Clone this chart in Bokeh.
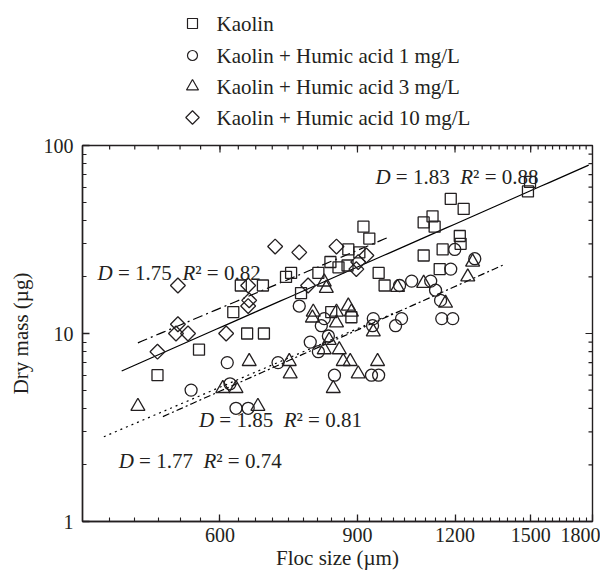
import math
from bokeh.plotting import figure
from bokeh.layouts import column
from bokeh.models import FixedTicker, Label, Range1d
from bokeh.core.properties import value
from bokeh.embed import file_html
from bokeh.resources import INLINE

series_names = ["Kaolin", "Kaolin + Humic acid 1 mg/L",
                "Kaolin + Humic acid 3 mg/L", "Kaolin + Humic acid 10 mg/L"]

kaolin_size = [1497, 1488, 1185, 1231, 1123, 1094, 1130, 916, 932, 1217, 1220, 1157,
               1094, 876, 905, 831, 874, 851, 802, 958, 975, 1147, 762, 884, 740, 729,
               638, 681, 624, 650, 683, 564, 499, 833]
kaolin_mass = [64, 57, 52, 46, 42, 39, 37, 37, 32, 33, 30, 28,
               26, 28, 27, 24, 23, 22.5, 21, 21, 18, 22, 16.4, 12.2, 21, 20,
               18, 18, 13, 10, 10, 8.2, 6, 13]

ha1_size = [1199, 1272, 1185, 1056, 1019, 1117, 1133, 1150, 1154, 1192, 943, 941,
            1025, 1007, 816, 783, 802, 841, 938, 958, 758, 613, 712, 551, 618, 629,
            652, 809, 826]
ha1_mass = [28, 25, 22, 19, 18, 19, 17, 15, 12, 12, 12, 11,
            12, 11, 12, 9, 8, 6, 6, 6, 14, 7, 7, 5, 5.4, 4,
            4, 11, 9.7]

ha3_size = [1264, 1246, 1013, 1094, 1167, 943, 790, 846, 876, 884, 846, 828, 816,
            853, 863, 881, 902, 955, 838, 816, 821, 471, 654, 736, 738, 605, 629,
            671, 788]
ha3_mass = [24, 20, 17.6, 18.5, 14.5, 10.2, 13, 13, 14, 13, 11.4, 9.2, 8.2,
            8.2, 7.1, 7.1, 6.1, 7.1, 5.1, 18.8, 17.4, 4.1, 7.1, 7.1, 6.1, 5.1, 5.1,
            4.1, 12.1]

ha10_size = [706, 758, 846, 530, 652, 778, 654, 652, 530, 527, 546, 611, 499, 924, 902, 897]
ha10_mass = [29, 27, 29, 18, 18, 18, 15, 14, 11.2, 10, 10, 10, 8, 26, 24, 22]

# fitted power laws  m = m0 * (d / d0) ** D
fit_D = [1.83, 1.77, 1.85, 1.75]
fit_R2 = [0.88, 0.74, 0.81, 0.82]
fit_d0 = [448.9, 425.6, 506.8, 470.7]
fit_m0 = [6.32, 2.82, 3.61, 8.91]
fit_d_start = [449, 426, 507, 471]
fit_d_end = [1780, 1000, 1390, 986]

x_ticks = [600, 900, 1200, 1500, 1800]
x_tick_labels = ["600", "900", "1200", "1500", "1800"]
y_ticks = [1, 10, 100]
y_tick_labels = ["1", "10", "100"]

FONT = "Liberation Serif"
INK = "#231f20"
XMIN, XMAX, YMIN, YMAX = 400, 1800, 1, 100
W, H = 600, 572
LEFT, RIGHT = 82, 8
LH = 131                    # legend strip height
TOP, BOTTOM = 14, 51
FW = W - LEFT - RIGHT
FH = H - LH - TOP - BOTTOM

markers = [dict(marker="square", size=11, angle=0),
           dict(marker="circle", size=12, angle=0),
           dict(marker="triangle", size=14, angle=0),
           dict(marker="square", size=10.5, angle=math.pi / 4)]
legend_markers = [dict(marker="square", size=10, angle=0),
                  dict(marker="circle", size=10, angle=0),
                  dict(marker="triangle", size=12, angle=0),
                  dict(marker="square", size=9.5, angle=math.pi / 4)]

# ---------------- legend strip (its frame is aligned with the plot frame) ----------------
leg = figure(width=W, height=LH, x_range=Range1d(LEFT, W - RIGHT), y_range=Range1d(0, LH),
             output_backend="svg", toolbar_location=None,
             x_axis_location=None, y_axis_location=None,
             min_border_left=LEFT, min_border_right=RIGHT,
             min_border_top=0, min_border_bottom=0)
leg.grid.visible = False
leg.outline_line_color = None
leg.background_fill_color = None
leg.border_fill_color = None
row_y = [LH - 23, LH - 55, LH - 86, LH - 117]
for k in range(4):
    m = legend_markers[k]
    leg.scatter([192], [row_y[k]], marker=m["marker"], size=m["size"], angle=m["angle"],
                fill_color=None, line_color=INK, line_width=1.2)
leg.text([216] * 4, row_y, text=series_names, text_font=value(FONT),
         text_font_size="21px", text_baseline="middle", text_align="left", text_color=INK)

# ---------------- main plot ----------------
p = figure(width=W, height=H - LH, x_axis_type="log", y_axis_type="log",
           x_range=(XMIN, XMAX), y_range=(YMIN, YMAX),
           output_backend="svg", toolbar_location=None,
           min_border_top=TOP, min_border_left=LEFT, min_border_right=RIGHT,
           min_border_bottom=BOTTOM)
p.grid.visible = False
p.background_fill_color = None
p.border_fill_color = None
p.outline_line_color = INK
p.outline_line_width = 1.4

x_minor = [XMIN + i * 100 / 3 for i in range(1, 42)]
y_minor = [k * m for m in (1, 10) for k in range(2, 10)]
p.xaxis.ticker = FixedTicker(ticks=x_ticks, minor_ticks=x_minor)
p.yaxis.ticker = FixedTicker(ticks=y_ticks, minor_ticks=y_minor)
p.xaxis.major_label_overrides = dict(zip(x_ticks, x_tick_labels))
p.yaxis.major_label_overrides = dict(zip(y_ticks, y_tick_labels))

for ax in (p.xaxis[0], p.yaxis[0]):
    ax.axis_line_color = INK
    ax.axis_line_width = 1.4
    ax.major_tick_line_color = INK
    ax.minor_tick_line_color = INK
    ax.major_tick_line_width = 1.3
    ax.minor_tick_line_width = 1.1
    ax.major_tick_in = 7
    ax.major_tick_out = 0
    ax.minor_tick_in = 4
    ax.minor_tick_out = 0
    ax.major_label_text_font = FONT
    ax.major_label_text_color = INK
    ax.major_label_text_font_size = "20px"
    ax.axis_label_text_font = FONT
    ax.axis_label_text_font_style = "normal"
    ax.axis_label_text_color = INK
    ax.axis_label_text_font_size = "21px"
p.xaxis.major_label_standoff = 6
p.yaxis.major_label_standoff = 9
p.xaxis.axis_label = "Floc size (µm)"
p.yaxis.axis_label = "Dry mass (µg)"
p.xaxis.axis_label_standoff = 1
p.yaxis.axis_label_standoff = 8

# mirrored ticks on the top and right edges of the frame
def tick_end_y(px):
    return YMAX * (YMAX / YMIN) ** (-px / FH)

def tick_end_x(px):
    return XMAX * (XMAX / XMIN) ** (-px / FW)

top_x = x_ticks + x_minor
top_len = [7] * len(x_ticks) + [4] * len(x_minor)
p.segment(x0=top_x, y0=[YMAX] * len(top_x), x1=top_x, y1=[tick_end_y(L) for L in top_len],
          line_color=INK, line_width=1.2)
right_y = y_ticks + y_minor
right_len = [7] * len(y_ticks) + [4] * len(y_minor)
p.segment(x0=[XMAX] * len(right_y), y0=right_y, x1=[tick_end_x(L) for L in right_len], y1=right_y,
          line_color=INK, line_width=1.2)

# regression lines
line_dash = ["solid", "2 4", "7 3 2 3", "10 4 2 4"]
for i in range(4):
    n = 60
    xs = [fit_d_start[i] * (fit_d_end[i] / fit_d_start[i]) ** (k / (n - 1)) for k in range(n)]
    ys = [fit_m0[i] * (x / fit_d0[i]) ** fit_D[i] for x in xs]
    p.line(xs, ys, line_color="black", line_width=1.2, line_dash=line_dash[i])

sizes = [kaolin_size, ha1_size, ha3_size, ha10_size]
masses = [kaolin_mass, ha1_mass, ha3_mass, ha10_mass]
for k in range(4):
    m = markers[k]
    p.scatter(sizes[k], masses[k], marker=m["marker"], size=m["size"], angle=m["angle"],
              fill_color=None, line_color=INK, line_width=1.3)

# equation annotations: (x, y) anchor in data coords, left edge / baseline
ann_anchor = [(949, 67.6), (445, 2.11), (563.8, 3.48), (418.2, 20.9)]
for i in range(4):
    ax_, ay_ = ann_anchor[i]
    pieces = [("D", 0, "italic"), ("=", 20.4, "normal"), (f"{fit_D[i]:.2f}", 37.5, "normal"),
              ("R", 84.8, "italic"), ("²", 97.6, "normal"), ("=", 109.2, "normal"),
              (f"{fit_R2[i]:.2f}", 126.3, "normal")]
    for txt, dx, style in pieces:
        p.add_layout(Label(x=ax_, y=ay_, text=txt, x_offset=dx, text_baseline="alphabetic",
                           text_align="left", text_font=FONT, text_font_size="21px",
                           text_font_style=style, text_color=INK))

layout = column(leg, p, spacing=0)
open("out.html", "w").write(file_html(layout, INLINE))
